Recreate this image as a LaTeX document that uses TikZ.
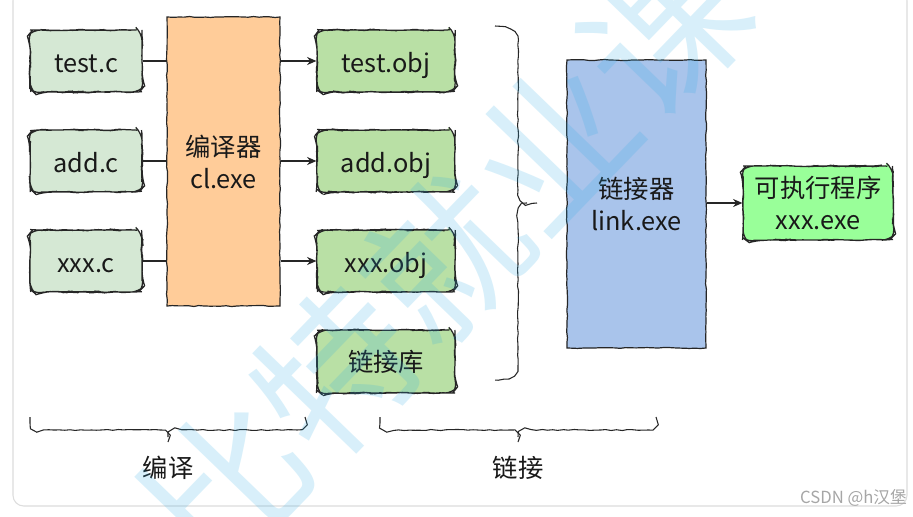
\documentclass[tikz,border=0pt]{standalone}
\usepackage{fontspec}
\setmainfont{Noto Sans CJK SC}
\usetikzlibrary{decorations.pathmorphing,arrows.meta}
\definecolor{srcfill}{HTML}{D5E8D4}
\definecolor{cmpfill}{HTML}{FFCC99}
\definecolor{objfill}{HTML}{B9E0A5}
\definecolor{lnkfill}{HTML}{A9C4EB}
\definecolor{exefill}{HTML}{99FF99}
\definecolor{wmblue}{RGB}{40,170,230}
\definecolor{framegray}{HTML}{DDDDDD}
\begin{document}
\begin{tikzpicture}[x=0.75pt,y=-0.75pt,
  sketch/.style={decorate,decoration={random steps,segment length=4pt,amplitude=0.4pt}},
  box/.style={draw=black!85, line width=0.9pt, sketch, align=center,
    font=\fontsize{19}{24}\selectfont, inner sep=0pt, text=black!90},
  latin/.style={text height=17pt, text depth=0pt},
  srcbox/.style={box, latin, rounded corners=6pt, fill=srcfill, minimum width=84pt, minimum height=46.5pt},
  objbox/.style={box, rounded corners=6pt, fill=objfill, minimum width=103.5pt, minimum height=46.5pt},
  cmpbox/.style={box, fill=cmpfill, minimum width=84.75pt, minimum height=216.75pt},
  lnkbox/.style={box, fill=lnkfill, minimum width=104.25pt, minimum height=216pt},
  exebox/.style={box, rounded corners=6pt, fill=exefill, minimum width=112.5pt, minimum height=55.5pt},
  conn/.style={draw=black!85, line width=0.8pt},
  arr/.style={conn, -{Stealth[length=7pt,width=6pt]}},
  bracepath/.style={draw=black!85, line width=0.8pt, sketch},
  lbl/.style={font=\fontsize{19}{24}\selectfont, text=black!90}
]
\pgfmathsetseed{7}
\useasboundingbox (0,0) rectangle (913,517);
\fill[white] (0,0) rectangle (913,517);
\draw[framegray, line width=0.8pt, rounded corners=8pt] (13,-10) rectangle (907,506);

% sources
\node[srcbox] (s1) at (86,61) {test.c};
\node[srcbox] (s2) at (86,161) {add.c};
\node[srcbox] (s3) at (86,261) {xxx.c};
% compiler
\node[cmpbox] (cmp) at (223.5,161.5) {编译器\\cl.exe};
% objects
\node[objbox, latin] (o1) at (386,61) {test.obj};
\node[objbox, latin] (o2) at (386,161) {add.obj};
\node[objbox, latin] (o3) at (386,261) {xxx.obj};
\node[objbox, minimum height=47.25pt] (lib) at (386,361.5) {链接库};
% linker
\node[lnkbox] (lnk) at (636.5,204) {链接器\\link.exe};
\node[exebox] (exe) at (818,203) {可执行程序\\xxx.exe};

% connectors
\foreach \s in {s1,s2,s3} \draw[conn] (\s.east) -- (\s.east -| cmp.west);
\foreach \o in {o1,o2,o3} \draw[arr] (cmp.east |- \o.west) -- (\o.west);
\draw[arr] (lnk.east |- exe.west) -- (exe.west);

% right brace
\draw[bracepath] (495,26) to[out=0,in=90] (518,40) -- (518,190) to[out=-90,in=180] (527,203) -- (537,203);
\draw[bracepath] (527,203) to[out=180,in=90] (518,216) -- (518,366) to[out=-90,in=0] (495,380);
% bottom braces
\draw[bracepath] (30,417) -- (30,423) to[out=-90,in=180] (38,430) -- (160,430) to[out=0,in=90] (168,437) -- (168,442);
\draw[bracepath] (168,437) to[out=90,in=180] (176,430) -- (297,430) to[out=0,in=-90] (305,423) -- (305,417);
\draw[bracepath] (380,417) -- (380,423) to[out=-90,in=180] (388,430) -- (510,430) to[out=0,in=90] (518,437) -- (518,442);
\draw[bracepath] (518,437) to[out=90,in=180] (526,430) -- (648,430) to[out=0,in=-90] (656,423) -- (656,417);
\node[lbl] (l1) at (168,468) {编译};
\node[lbl] (l2) at (518,468) {链接};

% watermark
\node[rotate=46, text=wmblue, text opacity=0.18, font=\fontsize{118}{118}\selectfont, inner sep=0pt] (wm) at (445,258) {比特就业课};
\node[text=black!35, font=\fontsize{12.5}{13}\selectfont, inner sep=0pt, anchor=east] (csdn) at (907,498) {CSDN @h汉堡};
\end{tikzpicture}
\end{document}
